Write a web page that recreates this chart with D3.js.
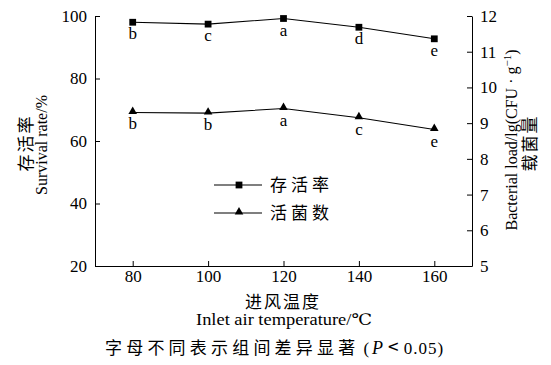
<!DOCTYPE html>
<html>
<head>
<meta charset="utf-8">
<script src="https://cdn.jsdelivr.net/npm/d3@7"></script>
<style>
  body { margin: 0; background: #fff; }
  svg text { fill: #000; }
  .axis path, .axis line { stroke: #000; stroke-width: 1; }
</style>
</head>
<body>
<svg id="chart" width="551" height="365"></svg>
<script>
const temps = [80, 100, 120, 140, 160];
const survival = [98.0, 97.4, 99.2, 96.4, 92.7];
const survivalLetters = ['b', 'c', 'a', 'd', 'e'];
const bacteria = [9.30, 9.28, 9.41, 9.15, 8.82];
const bacteriaLetters = ['b', 'b', 'a', 'c', 'e'];
const xTicks = [80, 100, 120, 140, 160];
const leftTicks = [20, 40, 60, 80, 100];
const rightTicks = [5, 6, 7, 8, 9, 10, 11, 12];

const LAT = '"Liberation Serif", "DejaVu Serif", serif';
const CJK = '"Noto Sans CJK SC", sans-serif';

const margin = { top: 16, left: 95, right: 79, bottom: 99 };
const width = 551 - margin.left - margin.right;
const height = 365 - margin.top - margin.bottom;

const svg = d3.select('#chart');
const g = svg.append('g').attr('transform', `translate(${margin.left},${margin.top})`);

const x = d3.scaleLinear().domain([70, 170]).range([0, width]);
const yL = d3.scaleLinear().domain([20, 100]).range([height, 0]);
const yR = d3.scaleLinear().domain([5, 12]).range([height, 0]);

const xAxisG = g.append('g').attr('class', 'axis').attr('transform', `translate(0,${height})`)
  .call(d3.axisBottom(x).tickValues(xTicks).tickSize(-5).tickSizeOuter(0).tickPadding(4));
const yAxisG = g.append('g').attr('class', 'axis')
  .call(d3.axisLeft(yL).tickValues(leftTicks).tickSize(-5).tickSizeOuter(0).tickPadding(8));
const y2AxisG = g.append('g').attr('class', 'axis').attr('transform', `translate(${width},0)`)
  .call(d3.axisRight(yR).tickValues(rightTicks).tickFormat(d3.format('d')).tickSize(-5).tickSizeOuter(0).tickPadding(8));
[xAxisG, yAxisG, y2AxisG].forEach(a => a.selectAll('text')
  .style('font-family', LAT).style('font-size', '17px').attr('fill', '#000'));

// lines
const line1 = d3.line().x((d, i) => x(temps[i])).y(d => yL(d));
const line2 = d3.line().x((d, i) => x(temps[i])).y(d => yR(d));
g.append('path').datum(survival).attr('d', line1).attr('fill', 'none').attr('stroke', '#000').attr('stroke-width', 1.1);
g.append('path').datum(bacteria).attr('d', line2).attr('fill', 'none').attr('stroke', '#000').attr('stroke-width', 1.1);

const sq = d3.symbol().type(d3.symbolSquare).size(46);
const tri = d3.symbol().type(d3.symbolTriangle).size(32);

g.selectAll('.sq').data(survival).enter().append('path')
  .attr('d', sq).attr('transform', (d, i) => `translate(${x(temps[i])},${yL(d)})`);
g.selectAll('.tri').data(bacteria).enter().append('path')
  .attr('d', tri).attr('transform', (d, i) => `translate(${x(temps[i])},${yR(d) - 1})`);

g.selectAll('.l1').data(survival).enter().append('text')
  .attr('x', (d, i) => x(temps[i])).attr('y', d => yL(d) + 17)
  .attr('text-anchor', 'middle').style('font-family', LAT).style('font-size', '17px')
  .text((d, i) => survivalLetters[i]);
g.selectAll('.l2').data(bacteria).enter().append('text')
  .attr('x', (d, i) => x(temps[i])).attr('y', d => yR(d) + 17)
  .attr('text-anchor', 'middle').style('font-family', LAT).style('font-size', '17px')
  .text((d, i) => bacteriaLetters[i]);

// legend
const legend = svg.append('g').attr('transform', 'translate(214,185)');
const items = [{ name: '存活率', sym: sq, dy: 0 }, { name: '活菌数', sym: tri, dy: 28 }];
items.forEach(it => {
  const row = legend.append('g').attr('transform', `translate(0,${it.dy})`);
  row.append('line').attr('x1', 0).attr('x2', 48).attr('stroke', '#000').attr('stroke-width', 1.1);
  row.append('path').attr('d', it.sym).attr('transform', it.dy ? 'translate(25,-1)' : 'translate(25,0)');
  row.append('text').attr('x', 56).attr('y', 6).style('font-family', CJK).style('font-size', '17px')
    .attr('letter-spacing', 4).text(it.name);
});

// axis titles
svg.append('text').attr('transform', 'translate(32,143) rotate(-90)')
  .attr('text-anchor', 'middle').style('font-family', CJK).style('font-size', '17px')
  .attr('letter-spacing', 2).text('存活率');
svg.append('text').attr('transform', 'translate(47,145) rotate(-90)')
  .attr('text-anchor', 'middle').style('font-family', LAT).style('font-size', '16px').text('Survival rate/%');

const rt = svg.append('text').attr('transform', 'translate(517,140) rotate(-90)')
  .attr('text-anchor', 'middle').style('font-family', LAT).style('font-size', '16px');
rt.append('tspan').text('Bacterial load/lg(CFU · g');
rt.append('tspan').attr('dy', -6).style('font-size', '11px').text('−1');
rt.append('tspan').attr('dy', 6).text(')');
svg.append('text').attr('transform', 'translate(536,143) rotate(-90)')
  .attr('text-anchor', 'middle').style('font-family', CJK).style('font-size', '17px')
  .attr('letter-spacing', 2).text('载菌量');

svg.append('text').attr('x', 283).attr('y', 308)
  .attr('text-anchor', 'middle').style('font-family', CJK).style('font-size', '17px')
  .attr('letter-spacing', 2).text('进风温度');
svg.append('text').attr('x', 196).attr('y', 325)
  .attr('textLength', 176).attr('lengthAdjust', 'spacingAndGlyphs')
  .style('font-family', LAT).style('font-size', '16px').text('Inlet air temperature/℃');

const cap = svg.append('text').attr('x', 105).attr('y', 354)
  .style('font-family', CJK).style('font-size', '17px');
cap.append('tspan').attr('letter-spacing', 4.2).text('字母不同表示组间差异显著');
cap.append('tspan').attr('dx', 4).style('font-family', LAT).text('(');
cap.append('tspan').attr('dx', 3).style('font-family', LAT).style('font-style', 'italic').style('font-size', '18px').text('P');
cap.append('tspan').attr('dx', 5).style('font-size', '19px').text('<');
cap.append('tspan').attr('dx', 5).style('font-family', LAT).attr('letter-spacing', 1).text('0.05)');
</script>
</body>
</html>
